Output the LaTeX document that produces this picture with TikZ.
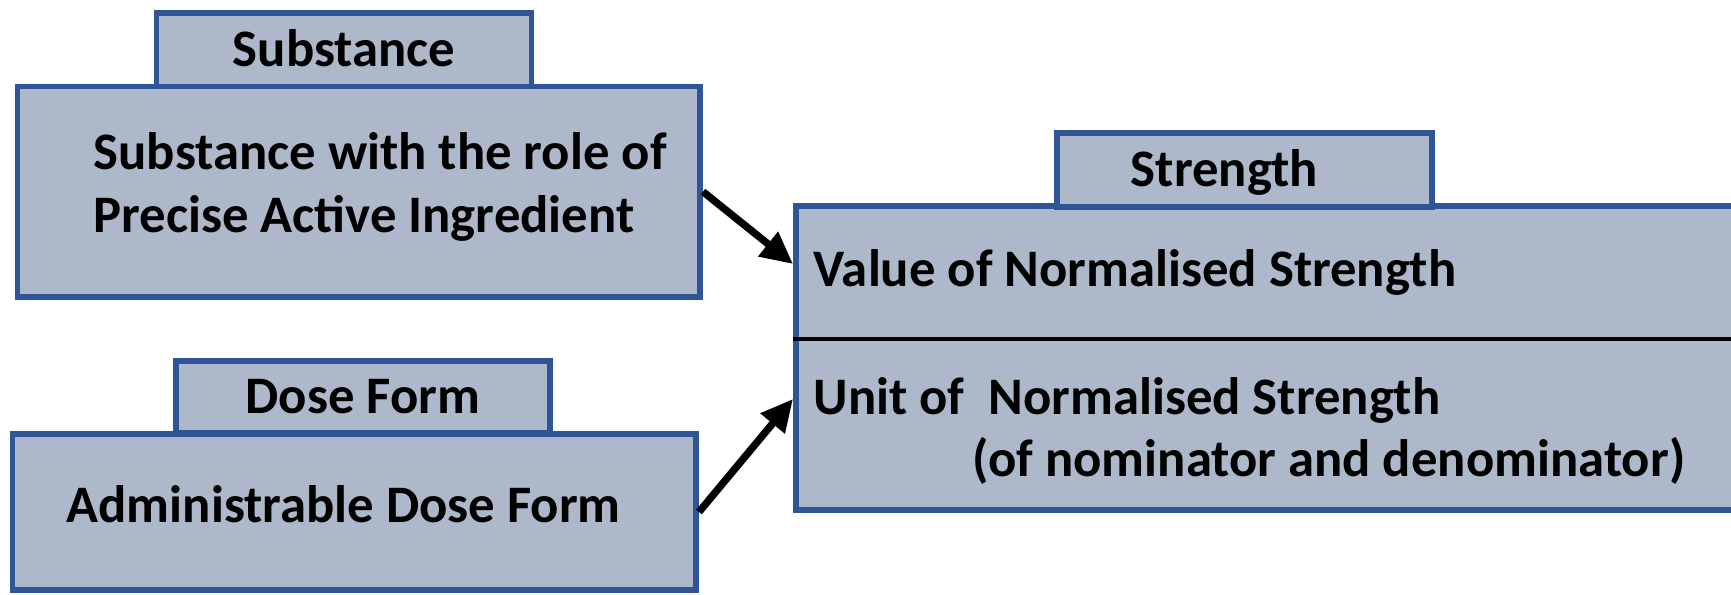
\documentclass[tikz,border=0pt]{standalone}
\usepackage{fontspec}
\setmainfont{Carlito}
\usepackage{xcolor}
\usepackage{tikz}
\usetikzlibrary{arrows.meta,positioning,calc}
\definecolor{boxblue}{RGB}{47,85,151}
\definecolor{boxfill}{RGB}{173,185,202}

\begin{document}
\begin{tikzpicture}[
    mainbox/.style={draw=boxblue,fill=boxfill,line width=1.7pt,inner sep=0pt},
    headbox/.style={draw=boxblue,fill=boxfill,line width=1.7pt,inner sep=0pt,
                minimum width=3.75cm,minimum height=0.735cm,
                text height=3.4mm,text depth=0pt,
                font=\fontsize{15pt}{17.6pt}\selectfont\bfseries},
    txt/.style={anchor=base west,inner sep=0pt,
                font=\fontsize{15pt}{17.6pt}\selectfont\bfseries},
    arrow/.style={-{Triangle[length=3.2mm,width=3mm]},line width=2.1pt,color=black}
]
\clip (0,0) rectangle (17.31,5.95);
% left boxes
\node[mainbox,minimum width=6.825cm,minimum height=2.105cm] (subst) at (3.5875,4.0325) {};
\node[headbox] (substhead) at (3.44,5.4525) {Substance};
\node[mainbox,minimum width=6.835cm,minimum height=1.56cm] (dose) at (3.5425,0.83) {};
\node[headbox,minimum width=3.74cm,minimum height=0.72cm] (dosehead) at (3.63,1.98) {Dose Form};
% strength box
\node[mainbox,minimum width=9.54cm,minimum height=3.04cm] (strength) at (12.73,2.37) {};
\node[headbox,minimum height=0.74cm] (strengthhead) at (12.445,4.25) {Strength\hspace*{4mm}};
\draw[line width=1.2pt] (strength.west |- 0,2.56) -- (strength.east |- 0,2.56);
% texts
\node[txt] (sub1) at (0.93,4.25) {Substance with the role of};
\node[txt] (sub2) at (0.93,3.62) {Precise Active Ingredient};
\node[txt] (dose1) at (0.66,0.72) {Administrable Dose Form};
\node[txt] (val) at (8.13,3.08) {Value of Normalised Strength};
\node[txt] (unit1) at (8.13,1.80) {Unit of\ \ Normalised Strength};
\node[txt] (unit2) at (9.72,1.18) {(of nominator and denominator)};
% arrows
\coordinate (valin) at (strength.west |- 0,3.31);
\coordinate (unitin) at (strength.west |- 0,1.96);
\draw[arrow] (subst.east) -- (valin);
\draw[arrow] (dose.east) -- (unitin);
\end{tikzpicture}
\end{document}
